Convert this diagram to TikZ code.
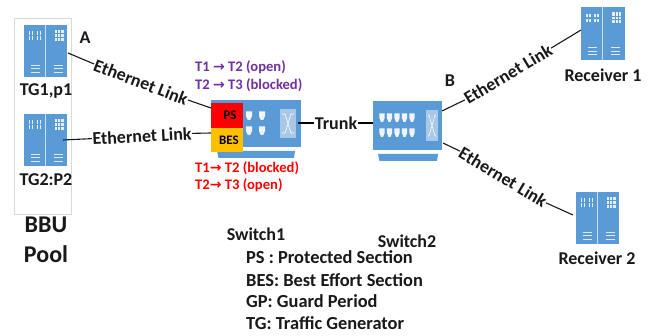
\documentclass[tikz,border=0pt]{standalone}
\usepackage{fontspec}
\setmainfont{Carlito}
\newfontfamily\arrowfont{DejaVu Sans}
\definecolor{netblue}{HTML}{5B9BD5}
\definecolor{paleblue}{HTML}{A9C8E8}
\definecolor{vio}{HTML}{7030A0}
\definecolor{amber}{HTML}{FFC000}
\newcommand{\ra}{{\arrowfont\bfseries\fontsize{14}{14}\selectfont →}}
\tikzset{
  x=1pt,y=-1pt,
  lbl/.style={font=\bfseries\fontsize{18}{19}\selectfont,inner sep=0.5pt,text=black!90},
  link/.style={draw=black!90,line width=1.1pt},
  trunkline/.style={draw=black,line width=2.2pt},
  flow/.style={font=\bfseries\fontsize{14.6}{15}\selectfont,inner sep=0pt,anchor=west},
  leg/.style={font=\bfseries\fontsize{18.4}{19}\selectfont,inner sep=0pt,anchor=west,text=black!90},
  srvbox/.style={fill=netblue,draw=none,minimum width=43.5pt,minimum height=52.5pt,inner sep=0pt},
}
\newcommand{\serverat}[3]{%
  \node[srvbox] (#3) at (#1,#2) {};
  \begin{scope}[shift={(#1,#2)}]
    \draw[white!70!netblue,line width=0.7pt] (-0.5,-26.2) -- (-0.5,26.2);
    \foreach \gx in {-16,-13,-8,-5} \foreach \gy in {-18,-13} \fill[white!85!netblue] (\gx-0.9,\gy-1.8) rectangle (\gx+0.9,\gy+1.8);
    \fill[white!85!netblue] (9,-21) rectangle (18,-10);
    \draw[netblue,line width=0.3pt] (12,-21)--(12,-10) (15,-21)--(15,-10) (9,-17.5)--(18,-17.5) (9,-14)--(18,-14);
    \foreach \gy in {14,17.5,21} {
      \draw[white!80!netblue,line width=0.7pt] (-15,\gy) -- (-6,\gy);
      \draw[white!80!netblue,line width=0.7pt] (8,\gy) -- (17,\gy);
    }
  \end{scope}}
\newcommand{\portat}[2]{%
  \fill[white!90!netblue] (#1-3,#2-4.5) -- (#1+3,#2-4.5) -- (#1+3,#2) -- (#1+1.2,#2+4) -- (#1-1.2,#2+4) -- (#1-3,#2) -- cycle;}
\newcommand{\smallportat}[2]{%
  \fill[white!90!netblue] (#1-2.6,#2-4.5) -- (#1+2.6,#2-4.5) -- (#1+2.6,#2) -- (#1+1,#2+4) -- (#1-1,#2+4) -- (#1-2.6,#2) -- cycle;}
\newcommand{\crossat}[4]{%
  \fill[paleblue] (#1-#3,#2-#4) rectangle (#1+#3,#2+#4);
  \draw[white,line width=0.6pt] (#1-#3+2,#2-#4+5) -- (#1-3,#2-#4+5) -- (#1+3,#2+#4-5) -- (#1+#3-2,#2+#4-5)
     (#1-#3+2,#2+#4-5) -- (#1-3,#2+#4-5) -- (#1+3,#2-#4+5) -- (#1+#3-2,#2-#4+5);}
\begin{document}
\begin{tikzpicture}
\useasboundingbox (0,0) rectangle (659,336);
\fill[white] (0,0) rectangle (659,336);
\node[draw=black!15,line width=0.8pt,fill=white,inner sep=0pt,minimum width=57pt,minimum height=196pt] (pool) at (42.5,116) {};
\serverat{45.5}{51}{tg1}
\serverat{45.5}{140}{tg2}
\serverat{603}{33.5}{rx1}
\serverat{597.5}{218}{rx2}
% switch 1
\node[fill=netblue,minimum width=90pt,minimum height=47pt,inner sep=0pt] (sw1) at (255.5,123.5) {};
\fill[netblue] (217,151) -- (295,151) -- (294,158) -- (218.5,158) -- cycle;
\foreach \a in {249,262} \foreach \b in {116,131} {\portat{\a}{\b}}
\crossat{288}{123.5}{8}{14.5}
\node[fill=red,minimum width=32pt,minimum height=25pt,inner sep=0pt,font=\bfseries\fontsize{13}{14}\selectfont,text=black] (ps) at (227,115.5) {\hspace*{6pt}PS};
\node[fill=amber,minimum width=32pt,minimum height=24pt,inner sep=0pt,font=\bfseries\fontsize{13}{14}\selectfont,text=black] (bes) at (227,140) {\hspace*{4pt}BES};
% switch 2
\node[fill=netblue,minimum width=69pt,minimum height=49pt,inner sep=0pt] (sw2) at (407.5,125.5) {};
\fill[netblue] (378,154) -- (438,154) -- (437,161) -- (379.5,161) -- cycle;
\foreach \a in {382,389.5,397,404.5,412} \foreach \b in {118,133} {\smallportat{\a}{\b}}
\crossat{432}{125.5}{6}{15.5}
% link labels
\node[lbl,rotate=-21] (e1) at (141,82) {Ethernet Link};
\node[lbl,rotate=3] (e2) at (142,136) {Ethernet Link};
\node[lbl,rotate=31] (e3) at (508,74) {Ethernet Link};
\node[lbl,rotate=-31] (e4) at (503,177) {Ethernet Link};
\node[lbl] (tr) at (336,123) {Trunk};
\coordinate (c1a) at (68,53);
\coordinate (c1b) at (211,108);
\coordinate (c2a) at (63,140);
\coordinate (c2b) at (211,133);
\coordinate (c3a) at (442,111);
\coordinate (c3b) at (581,30);
\coordinate (c4a) at (443,143);
\coordinate (c4b) at (573,215);
\coordinate (t1) at (298,123);
\coordinate (t2) at (373,123);
\draw[link] (c1a) -- (e1.west) (e1.east) -- (c1b);
\draw[link] (c2a) -- (e2.west) (e2.east) -- (c2b);
\draw[link] (c3a) -- (e3.west) (e3.east) -- (c3b);
\draw[link] (c4a) -- (e4.west) (e4.east) -- (c4b);
\draw[trunkline] (t1) -- (tr.west) (tr.east) -- (t2);
% labels
\node[lbl] (a1) at (85,38) {A};
\node[lbl] (b1) at (450,81) {B};
\node[lbl] (n1) at (46,91) {TG1,p1};
\node[lbl] (n2) at (46,180) {TG2:P2};
\node[font=\bfseries\fontsize{24}{26}\selectfont,inner sep=0pt,text=black!90] (bbu) at (46,225) {BBU};
\node[font=\bfseries\fontsize{24}{26}\selectfont,inner sep=0pt,text=black!90] (poolt) at (46,254) {Pool};
\node[lbl] (r1) at (603,75) {Receiver 1};
\node[lbl] (r2) at (597,258) {Receiver 2};
\node[flow,text=vio] (f1) at (195,67) {T1 \ra{} T2 (open)};
\node[flow,text=vio] (f2) at (195,85) {T2 \ra{} T3 (blocked)};
\node[flow,text=red] (f3) at (195,168) {T1\ra{} T2 (blocked)};
\node[flow,text=red] (f4) at (195,185) {T2\ra{} T3 (open)};
\node[lbl] (s1) at (256,234) {Switch1};
\node[lbl] (s2) at (407,241) {Switch2};
\node[leg] (l1) at (246,257) {PS : Protected Section};
\node[leg] (l2) at (246,280) {BES: Best Effort Section};
\node[leg] (l3) at (246,301) {GP: Guard Period};
\node[leg] (l4) at (246,323) {TG: Traffic Generator};
\end{tikzpicture}
\end{document}
